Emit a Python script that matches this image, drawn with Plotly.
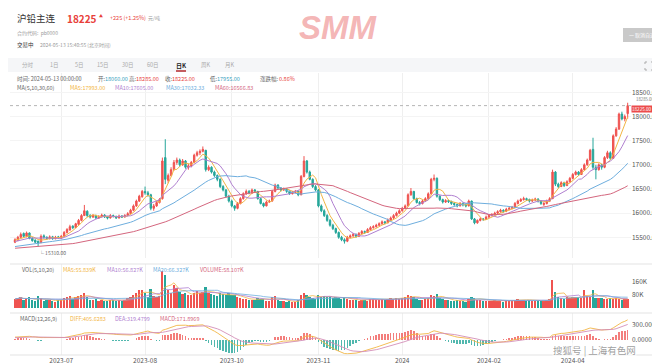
import plotly.graph_objects as go
import pandas as pd

W, H = 660, 364
FONT = "Noto Sans CJK SC, Noto Sans, sans-serif"
UP, DOWN = "#ef5350", "#26a69a"
C_MA5, C_MA10, C_MA30, C_MA60 = "#f2b544", "#b07fd0", "#6eaede", "#d4667e"

# ---------------- data ----------------
holidays = ["2023-09-29", "2023-10-02", "2023-10-03", "2023-10-04", "2023-10-05", "2023-10-06",
            "2024-01-01", "2024-02-09", "2024-02-12", "2024-02-13", "2024-02-14", "2024-02-15",
            "2024-02-16", "2024-04-04", "2024-04-05", "2024-05-01", "2024-05-02", "2024-05-03"]
dates = [d.strftime("%Y-%m-%d") for d in pd.bdate_range("2023-06-26", "2024-05-13")
         if d.strftime("%Y-%m-%d") not in holidays]

# earlier sessions (left of the visible window) used to seed the moving averages
pre_close = [15250, 15220, 15180, 15200, 15240, 15300, 15280, 15260, 15230, 15210,
             15190, 15170, 15200, 15230, 15260, 15290, 15310, 15280, 15250, 15220,
             15200, 15180, 15160, 15190, 15230, 15270, 15300, 15320, 15290, 15260,
             15240, 15220, 15200, 15180, 15210, 15250, 15280, 15300, 15270, 15240,
             15220, 15250, 15280, 15310, 15290, 15260, 15240, 15270, 15300, 15330,
             15350, 15380, 15400, 15420, 15390, 15410, 15440, 15430, 15460]

opens = [15400, 15440, 15500, 15580, 15520, 15590, 15480, 15440, 15420, 15390,
         15530, 15500, 15470, 15510, 15470, 15510, 15480, 15520, 15600, 15650,
         15730, 15700, 15770, 15850, 15950, 16040, 15950, 15920, 15950, 15900,
         15930, 15960, 15920, 15900, 15950, 15930, 15900, 15940, 15920, 15950,
         15990, 16060, 16150, 16250, 16340, 16450, 16420, 16380, 16100, 16150,
         16220, 16300, 17150, 16680, 16780, 16900, 17050, 17100, 17000, 17080,
         16950, 16980, 17050, 17200, 17250, 17280, 17300, 16900, 16950, 16850,
         16780, 16700, 16550, 16480, 16350, 16250, 16150, 16100, 16200, 16300,
         16400, 16450, 16420, 16480, 16450, 16300, 16200, 16150, 16230, 16250,
         16450, 16580, 16520, 16480, 16500, 16450, 16400, 16430, 16450, 16380,
         16760, 17080, 16850, 16700, 16550, 16480, 16150, 16050, 15950, 15850,
         15750, 15680, 15600, 15500, 15450, 15420, 15500, 15530, 15560, 15520,
         15580, 15620, 15600, 15660, 15700, 15720, 15750, 15780, 15820, 15800,
         15860, 15900, 15950, 16000, 16050, 16100, 16150, 16380, 16450, 16300,
         16220, 16200, 16250, 16300, 16400, 16700, 16720, 16350, 16280, 16230,
         16260, 16240, 16200, 16180, 16150, 16200, 16170, 16150, 16250, 15880,
         15800, 15850, 15880, 15870, 15920, 15950, 15970, 16000, 16030, 16060,
         16040, 16080, 16100, 16120, 16200, 16250, 16280, 16300, 16280, 16250,
         16270, 16290, 16250, 16180, 16200, 16250, 16300, 16850, 16600, 16550,
         16630, 16570, 16650, 16720, 16800, 16850, 16800, 16900, 17000, 17100,
         17320, 16950, 16900, 17000, 16950, 17150, 17250, 17135, 17600, 17740,
         18050, 17950, 18060]
highs = [15480, 15530, 15600, 15600, 15620, 15600, 15500, 15460, 15430, 15560,
         15560, 15520, 15540, 15530, 15530, 15530, 15550, 15630, 15690, 15760,
         15750, 15800, 15880, 15980, 16170, 16060, 15980, 15980, 15970, 15960,
         15990, 15980, 15940, 15980, 15970, 15950, 15970, 15960, 15980, 16020,
         16090, 16180, 16280, 16380, 16480, 16550, 16460, 16400, 16190, 16250,
         16310, 17150, 17530, 16820, 16950, 17100, 17150, 17130, 17120, 17100,
         17020, 17080, 17230, 17290, 17320, 17380, 17310, 16990, 16970, 16880,
         16800, 16720, 16580, 16500, 16380, 16280, 16170, 16230, 16330, 16430,
         16490, 16480, 16510, 16500, 16460, 16320, 16220, 16260, 16280, 16480,
         16610, 16600, 16540, 16530, 16520, 16470, 16460, 16480, 16470, 16790,
         17180, 17100, 16880, 16720, 16580, 16500, 16180, 16080, 15980, 15880,
         15780, 15700, 15620, 15530, 15480, 15530, 15560, 15590, 15580, 15610,
         15650, 15640, 15690, 15730, 15750, 15780, 15810, 15850, 15840, 15890,
         15930, 15980, 16030, 16080, 16130, 16180, 16410, 16520, 16460, 16320,
         16250, 16280, 16330, 16430, 16730, 16800, 16740, 16370, 16300, 16290,
         16280, 16260, 16230, 16200, 16230, 16220, 16190, 16280, 16260, 15900,
         15870, 15910, 15900, 15950, 15980, 16000, 16030, 16060, 16090, 16080,
         16110, 16130, 16150, 16230, 16280, 16310, 16340, 16320, 16300, 16300,
         16320, 16310, 16270, 16230, 16280, 16330, 16900, 16870, 16630, 16660,
         16650, 16680, 16750, 16830, 16880, 16870, 16930, 17030, 17130, 17330,
         17560, 17000, 17030, 17020, 17180, 17290, 17280, 17630, 17780, 18080,
         18100, 18040, 18285]
lows = [15380, 15420, 15480, 15500, 15500, 15460, 15410, 15380, 15310, 15380,
        15470, 15450, 15460, 15450, 15460, 15470, 15470, 15510, 15580, 15640,
        15670, 15690, 15760, 15830, 15940, 15920, 15890, 15900, 15880, 15880,
        15910, 15900, 15870, 15890, 15910, 15880, 15890, 15900, 15910, 15940,
        15980, 16040, 16130, 16230, 16320, 16380, 16340, 16060, 16050, 16130,
        16200, 16280, 16600, 16620, 16760, 16880, 17000, 16960, 16980, 16920,
        16900, 16950, 17030, 17170, 17200, 17260, 16860, 16870, 16820, 16750,
        16660, 16520, 16450, 16320, 16220, 16120, 16050, 16080, 16180, 16280,
        16380, 16390, 16400, 16420, 16280, 16180, 16120, 16140, 16210, 16240,
        16430, 16490, 16450, 16460, 16420, 16380, 16390, 16410, 16350, 16370,
        16740, 16820, 16680, 16520, 16450, 16120, 16020, 15920, 15820, 15720,
        15650, 15570, 15470, 15420, 15370, 15400, 15480, 15510, 15490, 15510,
        15560, 15570, 15590, 15640, 15680, 15700, 15730, 15760, 15770, 15790,
        15840, 15880, 15930, 15980, 16030, 16080, 16140, 16360, 16280, 16200,
        16160, 16180, 16230, 16280, 16380, 16660, 16320, 16250, 16200, 16210,
        16210, 16170, 16150, 16120, 16140, 16140, 16120, 16140, 15860, 15770,
        15780, 15830, 15840, 15860, 15900, 15930, 15950, 15980, 16010, 16010,
        16020, 16060, 16080, 16100, 16180, 16230, 16260, 16250, 16220, 16230,
        16250, 16220, 16170, 16150, 16180, 16230, 16290, 16560, 16520, 16540,
        16540, 16560, 16630, 16700, 16780, 16770, 16790, 16880, 16980, 17080,
        16900, 16700, 16880, 16900, 16930, 17120, 17100, 17120, 17580, 17720,
        17920, 17900, 17955]
closes = [15450, 15500, 15560, 15520, 15590, 15480, 15430, 15400, 15380, 15520,
          15500, 15480, 15510, 15470, 15500, 15490, 15520, 15600, 15660, 15720,
          15700, 15780, 15850, 15950, 16050, 15950, 15920, 15950, 15900, 15930,
          15960, 15920, 15900, 15950, 15930, 15900, 15940, 15920, 15950, 15990,
          16060, 16150, 16250, 16350, 16450, 16420, 16380, 16100, 16150, 16220,
          16280, 17080, 16700, 16780, 16900, 17050, 17100, 17000, 17080, 16950,
          16980, 17050, 17200, 17250, 17280, 17320, 16900, 16950, 16850, 16780,
          16700, 16550, 16480, 16350, 16250, 16150, 16100, 16200, 16300, 16400,
          16450, 16420, 16480, 16450, 16300, 16200, 16150, 16230, 16250, 16450,
          16580, 16520, 16480, 16500, 16450, 16400, 16430, 16450, 16380, 16760,
          17080, 16850, 16700, 16550, 16480, 16150, 16050, 15950, 15850, 15750,
          15680, 15600, 15500, 15450, 15420, 15500, 15530, 15560, 15520, 15580,
          15620, 15600, 15660, 15700, 15720, 15750, 15780, 15820, 15800, 15860,
          15900, 15950, 16000, 16050, 16100, 16150, 16380, 16450, 16300, 16220,
          16200, 16250, 16300, 16400, 16700, 16720, 16350, 16280, 16230, 16260,
          16240, 16200, 16180, 16150, 16200, 16170, 16150, 16250, 15880, 15800,
          15850, 15880, 15870, 15920, 15950, 15970, 16000, 16030, 16060, 16040,
          16080, 16100, 16120, 16200, 16250, 16280, 16300, 16280, 16250, 16270,
          16290, 16250, 16200, 16200, 16250, 16300, 16850, 16600, 16550, 16630,
          16570, 16650, 16720, 16800, 16850, 16800, 16900, 17000, 17100, 17300,
          16950, 16900, 17000, 16950, 17150, 17250, 17135, 17600, 17740, 18050,
          17950, 18000, 18225]
volumes_k = [55, 62, 70, 48, 58, 66, 50, 45, 72, 60, 42, 48, 52, 45, 40, 50,
             48, 62, 70, 75, 55, 66, 72, 80, 90,
             70, 52, 48, 55, 45, 50, 42, 46, 52, 48, 44, 50, 46, 52,
             60, 65, 78, 95, 110, 112, 90, 70,
             115, 75, 68, 72,
             225, 205,
             110, 95, 140, 120, 100, 85, 90, 80, 78, 95, 105, 92, 100,
             130, 90, 85, 80, 75, 95, 85, 80, 90, 78, 82, 65,
             60, 58, 55, 50, 52, 48, 62, 58, 55, 45, 42, 68, 72, 50, 45, 42, 40, 44, 38, 36, 48,
             78, 95, 80, 66, 62, 58, 82, 70, 72, 65, 68, 62, 70, 60, 58, 66,
             55, 50, 52, 48, 45, 50, 52, 46, 55, 58, 50, 52, 55, 48, 56, 60, 58, 62, 55, 60, 65,
             78, 75, 70, 58, 52, 50, 55, 60, 80, 72, 85, 60, 55, 50, 48,
             46, 44, 48, 42, 45, 40, 55, 68, 60, 52, 48, 45, 44, 42, 46, 48, 45, 44, 40, 42, 45, 48,
             50, 55, 52, 48, 46, 50, 45, 44, 48, 42, 46, 50, 55,
             172, 100,
             70, 62, 58, 65, 60,
             70, 65, 70, 62, 113, 75, 70, 113, 62, 58.5,
             60, 55, 58, 62, 54, 62, 55, 48, 56.1, 58.107]

tick_dates = ["2023-07-18", "2023-08-28", "2023-10-17", "2023-11-28", "2024-01-09", "2024-02-28", "2024-04-11"]
tick_labels = ["2023-07", "2023-08", "2023-10", "2023-11", "2024", "2024-02", "2024-04"]
price_ticks = [15500, 16000, 16500, 17000, 17500, 18000, 18500]

n = len(closes)
dates = dates[:n]
volumes = [v * 1000 for v in volumes_k]

# ---------------- indicators ----------------
all_close = pd.Series(pre_close + closes, dtype=float)
k = len(pre_close)
ma = {p: all_close.rolling(p, min_periods=1).mean().iloc[k:].tolist() for p in (5, 10, 30, 60)}
ema12 = all_close.ewm(span=12, adjust=False).mean()
ema26 = all_close.ewm(span=26, adjust=False).mean()
dif_s = ema12 - ema26
dea_s = dif_s.ewm(span=9, adjust=False).mean()
macd_s = 2 * (dif_s - dea_s)
dif, dea, macd = dif_s.iloc[k:].tolist(), dea_s.iloc[k:].tolist(), macd_s.iloc[k:].tolist()
vser = pd.Series(volumes, dtype=float)
vma = {p: vser.rolling(p, min_periods=1).mean().tolist() for p in (5, 10, 20)}

# ---------------- figure ----------------
fig = go.Figure()
fig.add_trace(go.Candlestick(
    x=dates, open=opens, high=highs, low=lows, close=closes,
    increasing=dict(line=dict(color=UP, width=1), fillcolor=UP),
    decreasing=dict(line=dict(color=DOWN, width=1), fillcolor=DOWN),
    whiskerwidth=0, xaxis="x", yaxis="y", showlegend=False, hoverinfo="skip"))
for p, c in ((5, C_MA5), (10, C_MA10), (30, C_MA30), (60, C_MA60)):
    fig.add_trace(go.Scatter(x=dates, y=ma[p], mode="lines", line=dict(color=c, width=1),
                             xaxis="x", yaxis="y", showlegend=False, hoverinfo="skip"))

vol_colors = [UP if c >= o else DOWN for o, c in zip(opens, closes)]
fig.add_trace(go.Bar(x=dates, y=volumes, marker=dict(color=vol_colors, line=dict(width=0)),
                     width=0.62, xaxis="x2", yaxis="y2", showlegend=False, hoverinfo="skip"))
for p, c in ((5, C_MA5), (10, C_MA10), (20, C_MA30)):
    fig.add_trace(go.Scatter(x=dates, y=vma[p], mode="lines", line=dict(color=c, width=0.8),
                             xaxis="x2", yaxis="y2", showlegend=False, hoverinfo="skip"))

macd_colors = ["rgba(239,83,80,0.75)" if m >= 0 else "rgba(38,166,154,0.8)" for m in macd]
fig.add_trace(go.Bar(x=dates, y=macd, marker=dict(color=macd_colors, line=dict(width=0)),
                     width=0.55, xaxis="x3", yaxis="y3", showlegend=False, hoverinfo="skip"))
fig.add_trace(go.Scatter(x=dates, y=dif, mode="lines", line=dict(color="#f2b544", width=0.9),
                         xaxis="x3", yaxis="y3", showlegend=False, hoverinfo="skip"))
fig.add_trace(go.Scatter(x=dates, y=dea, mode="lines", line=dict(color="#d48fb8", width=0.9),
                         xaxis="x3", yaxis="y3", showlegend=False, hoverinfo="skip"))

def px_dom(top, bottom):
    return [1 - bottom / H, 1 - top / H]

XL, XR = 2, 623
BOT = 347
xdom = [XL / W, XR / W]
x0 = (XL - 7) / 2.89
xrng = [x0, x0 + (XR - XL) / 2.89]
GRID = "#efefef"
xcommon = dict(domain=xdom, type="category", range=xrng, tickvals=tick_dates, ticktext=tick_labels,
               showgrid=True, gridcolor=GRID, gridwidth=1, zeroline=False, showline=False,
               ticks="", automargin=False, fixedrange=True)
tickfont = dict(size=6.5, color="#555", family=FONT)

fig.update_layout(
    width=W, height=H, margin=dict(l=0, r=0, t=0, b=0),
    paper_bgcolor="white", plot_bgcolor="white", template="none",
    font=dict(family=FONT, color="#333"), bargap=0, showlegend=False,
    xaxis=dict(**xcommon, anchor="y", showticklabels=False, rangeslider=dict(visible=False)),
    xaxis2=dict(**xcommon, anchor="y2", matches="x", showticklabels=False),
    xaxis3=dict(**xcommon, anchor="y3", matches="x", showticklabels=True, tickfont=tickfont),
    yaxis=dict(domain=px_dom(65, 250), range=[15072, 18900], side="right", tickvals=price_ticks,
               tickformat=".2f", showgrid=True, gridcolor="#f4f4f4", zeroline=False, ticks="",
               tickfont=tickfont, automargin=False, fixedrange=True),
    yaxis2=dict(domain=px_dom(256, 300), range=[0, 270600], side="right", tickvals=[80000, 160000],
                ticktext=["80K", "160K"], showgrid=False, zeroline=False, ticks="",
                tickfont=tickfont, automargin=False, fixedrange=True),
    yaxis3=dict(domain=px_dom(305, BOT), range=[-300, 525], side="right", tickvals=[0, 300],
                ticktext=["0.0000", "300.0000"], showgrid=False, zeroline=False, ticks="",
                tickfont=tickfont, automargin=False, fixedrange=True),
)

def ann(x, y, text, size=6, color="#333", anchor="left", bold=False, family=FONT, **kw):
    if bold:
        text = f"<b>{text}</b>"
    fig.add_annotation(xref="paper", yref="paper", x=x / W, y=1 - y / H, text=text,
                       showarrow=False, xanchor=anchor, yanchor=kw.pop("yanchor", "middle"),
                       font=dict(size=size, color=color, family=family), **kw)

def hline(y, x0=XL, x1=653, color="#e3e3e3", width=1, dash="solid"):
    fig.add_shape(type="line", xref="paper", yref="paper", x0=x0 / W, x1=x1 / W,
                  y0=1 - y / H, y1=1 - y / H, line=dict(color=color, width=width, dash=dash))

def P(x, y):
    return f"{x / W:.5f},{1 - y / H:.5f}"

RED = "#e8403a"
GRAY = "#999"
# SMM logo
ann(330, 0, "<i>SMM</i>", size=33, color="rgba(236,120,120,0.55)", anchor="center", bold=True,
    family="Liberation Sans, Arial, sans-serif", yanchor="top", borderpad=0)
# header
ann(7, 10, "沪铅主连", size=9.5, color="#333")
ann(57, 10, f"{closes[-1]:.0f}", size=10, color=RED, bold=True)
ann(89, 8, "▲", size=4, color=RED)
ann(100, 10, "+225 (+1.25%)", size=5.5, color=RED)
ann(138, 10, "元/吨", size=5, color=GRAY)
ann(7, 25, "合约代码:  pb0000", size=5, color=GRAY)
ann(7, 37, "交易中", size=5.5, color="#333")
ann(30, 37, "2024-05-13 15:40:55 (北京时间)", size=5, color=GRAY)
# gray button top right
fig.add_shape(type="rect", xref="paper", yref="paper", x0=615 / W, x1=653 / W, y0=1 - 34 / H,
              y1=1 - 20 / H, fillcolor="#c9c9c9", line=dict(width=0))
ann(634, 27, "一 取消自选", size=5, color="white", anchor="center")
# tab bar
fig.add_shape(type="rect", xref="paper", yref="paper", x0=0, x1=653 / W, y0=1 - 64 / H,
              y1=1 - 50 / H, fillcolor="#f5f6f8", line=dict(width=0), layer="below")
tabs = [("分时", 20), ("1日", 46), ("5日", 71), ("15日", 95), ("30日", 120), ("60日", 145),
        ("日K", 173), ("周K", 198), ("月K", 222)]
for t, x in tabs:
    if t == "日K":
        ann(x, 57, t, size=6, color="#222", anchor="center", bold=True)
    else:
        ann(x, 57, t, size=5.5, color="#aaa", anchor="center")
hline(63, 168, 178, color="#b3282d", width=1.5)
fig.add_shape(type="path", xref="paper", yref="paper",
              path=(f"M{P(637,56)} L{P(637,54)} L{P(639,54)} M{P(643,54)} L{P(645,54)} L{P(645,56)} "
                    f"M{P(645,60)} L{P(645,62)} L{P(643,62)} M{P(639,62)} L{P(637,62)} L{P(637,60)}"),
              line=dict(color="#aaa", width=1))
# info line
ann(7, 71, "时间: 2024-05-13 00:00:00", size=5.5, color="#666")
info = [("开:", 88, f"{opens[-1]:.2f}", "#3a9fc0"), ("高:", 119, f"{highs[-1]:.2f}", RED),
        ("收:", 155, f"{closes[-1]:.2f}", RED), ("低:", 200, f"{lows[-1]:.2f}", "#3a9fc0")]
for lab, x, val, c in info:
    ann(x, 71, lab, size=5.5, color="#666")
    ann(x + 7, 71, val, size=5.5, color=c)
ann(250, 71, "涨跌幅:", size=5.5, color="#666")
ann(269, 71, "0.86%", size=5.5, color=RED)
# MA legend
ann(7, 80, "MA(5,10,30,60)", size=5.5, color="#666")
ann(60, 80, "MA5:17993.00", size=5.5, color=C_MA5)
ann(105, 80, "MA10:17605.00", size=5.5, color=C_MA10)
ann(156, 80, "MA30:17032.33", size=5.5, color=C_MA30)
ann(205, 80, "MA60:16566.83", size=5.5, color=C_MA60)
# VOL legend
ann(12, 262, "VOL(5,10,20)", size=5.5, color="#666")
ann(53, 262, "MA5:55.839K", size=5.5, color=C_MA5)
ann(97, 262, "MA10:56.827K", size=5.5, color=C_MA10)
ann(143, 262, "MA20:66.327K", size=5.5, color=C_MA30)
ann(190, 262, "VOLUME:58.107K", size=5.5, color=C_MA60)
# MACD legend
ann(10, 311, "MACD(12,26,9)", size=5.5, color="#666")
ann(60, 311, "DIFF:405.6283", size=5.5, color=C_MA5)
ann(105, 311, "DEA:319.4799", size=5.5, color=C_MA10)
ann(150, 311, "MACD:171.8969", size=5.5, color=C_MA60)

# panel separators and border
hline(256)
hline(305)
hline(BOT)
fig.add_shape(type="line", xref="paper", yref="paper", x0=653 / W, x1=653 / W, y0=1 - BOT / H,
              y1=1 - 65 / H, line=dict(color="#dcdcdc", width=1))

# last-price dotted line and labels
fig.add_shape(type="line", xref="paper", yref="y", x0=XL / W, x1=XR / W, y0=closes[-1], y1=closes[-1],
              line=dict(color="#b5b5b5", width=1, dash="dot"))
fig.add_annotation(xref="paper", yref="y", x=XR / W, y=closes[-1], text=f"{closes[-1]:.2f}",
                   showarrow=False, xanchor="left", yanchor="middle", bgcolor="#ec4b4b", yshift=-3,
                   borderpad=0, font=dict(size=4.6, color="white", family=FONT))
hi = max(highs)
fig.add_annotation(xref="paper", yref="y", x=626 / W, y=hi, text=f"{hi:.2f}", showarrow=False,
                   xanchor="left", yanchor="middle", yshift=4, font=dict(size=4.3, color="#777", family=FONT))
lo_i = lows.index(min(lows))
fig.add_annotation(xref="x", yref="y", x=dates[lo_i], y=lows[lo_i], text=f"└ {lows[lo_i]:.2f}",
                   showarrow=False, xanchor="left", yanchor="top", xshift=-1,
                   font=dict(size=5, color="#666", family=FONT))

# watermark
ann(586, 341.5, "搜狐号 | 上海有色网", size=9.5, color="rgba(140,140,140,0.85)", anchor="center",
    bgcolor="rgba(255,255,255,0.55)", borderpad=0)

fig.write_html("out.html")
